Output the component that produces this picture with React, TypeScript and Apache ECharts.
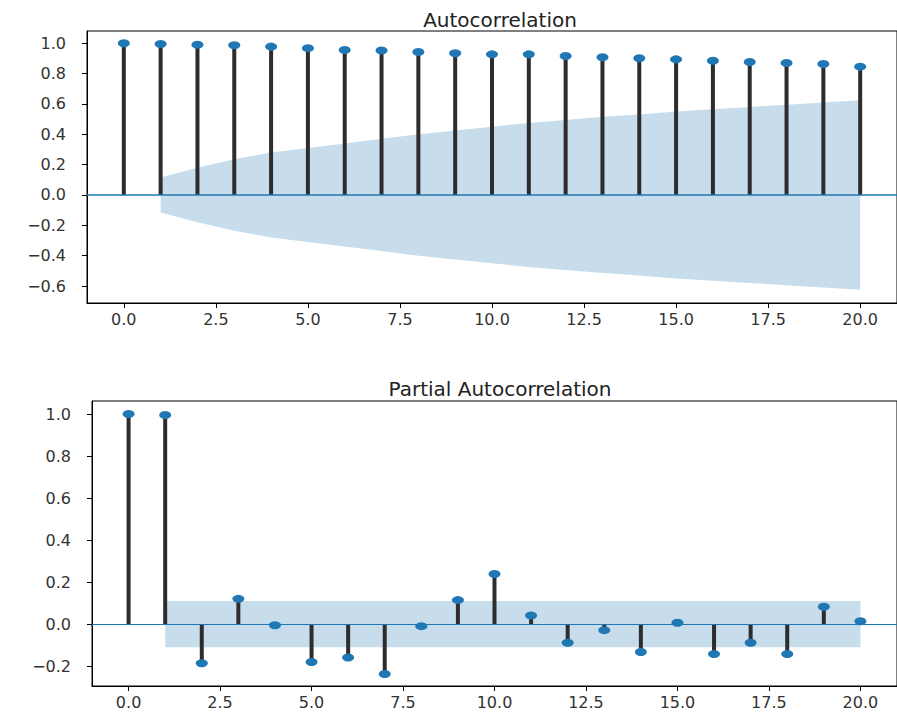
import React, { useEffect, useRef } from "react";
import * as echarts from "echarts";

// ---- data ----
const lags = [0, 1, 2, 3, 4, 5, 6, 7, 8, 9, 10, 11, 12, 13, 14, 15, 16, 17, 18, 19, 20];

const acfValues = [
  1.0, 0.995, 0.99, 0.987, 0.978, 0.968, 0.956, 0.952, 0.943, 0.934, 0.927,
  0.927, 0.916, 0.908, 0.901, 0.894, 0.885, 0.877, 0.87, 0.864, 0.846,
];
// confidence band half-width for lags 1..20
const acfConfLags = [1, 2, 3, 4, 5, 6, 7, 8, 9, 10, 11, 12, 13, 14, 15, 16, 17, 18, 19, 20];
const acfConf = [
  0.115, 0.18, 0.235, 0.28, 0.31, 0.34, 0.37, 0.4, 0.425, 0.45, 0.475, 0.495,
  0.515, 0.53, 0.55, 0.565, 0.58, 0.595, 0.61, 0.624,
];

const pacfValues = [
  1.0, 0.995, -0.187, 0.12, -0.006, -0.181, -0.159, -0.238, -0.01, 0.114, 0.238,
  0.041, -0.089, -0.029, -0.133, 0.006, -0.143, -0.089, -0.143, 0.082, 0.013,
];
const pacfConfLags = [1, 2, 3, 4, 5, 6, 7, 8, 9, 10, 11, 12, 13, 14, 15, 16, 17, 18, 19, 20];
const pacfConf = [
  0.11, 0.11, 0.11, 0.11, 0.11, 0.11, 0.11, 0.11, 0.11, 0.11, 0.11, 0.11, 0.11,
  0.11, 0.11, 0.11, 0.11, 0.11, 0.11, 0.11,
];

const xTicks = [0, 2.5, 5, 7.5, 10, 12.5, 15, 17.5, 20];
const acfYTicks = [-0.6, -0.4, -0.2, 0, 0.2, 0.4, 0.6, 0.8, 1.0];
const pacfYTicks = [-0.2, 0, 0.2, 0.4, 0.6, 0.8, 1.0];

const titles = ["Autocorrelation", "Partial Autocorrelation"];

// ---- styling ----
const BLUE = "#1f77b4";
const BAND = "rgba(31,119,180,0.25)";
const STEM = "#2d2d2d";
const FONT = "DejaVu Sans";

function fmt(v: number) {
  const s = Math.abs(v).toFixed(1);
  return v < -1e-9 ? "\u2212" + s : s;
}

function makeAxes(gi: number, yMin: number, yMax: number, yTicks: number[]) {
  const xAxis = {
    type: "value",
    gridIndex: gi,
    min: -1,
    max: 21,
    axisLine: { show: true, onZero: false, lineStyle: { color: "#000", width: 1 } },
    axisTick: { show: true, customValues: xTicks, length: 5, lineStyle: { color: "#000" } },
    axisLabel: {
      customValues: xTicks,
      formatter: (v: number) => fmt(v),
      fontFamily: FONT,
      fontSize: 16,
      color: "#333",
      margin: 8,
    },
    splitLine: { show: false },
  };
  const yAxis = {
    type: "value",
    gridIndex: gi,
    min: yMin,
    max: yMax,
    axisLine: { show: true, onZero: false, lineStyle: { color: "#000", width: 1 } },
    axisTick: { show: true, customValues: yTicks, length: 5, lineStyle: { color: "#000" } },
    axisLabel: {
      customValues: yTicks,
      formatter: (v: number) => fmt(v),
      fontFamily: FONT,
      fontSize: 16,
      color: "#333",
      margin: 21,
    },
    splitLine: { show: false },
  };
  return { xAxis, yAxis };
}

function makeSeries(gi: number, values: number[], confLags: number[], conf: number[], zeroWidth: number) {
  return [
    {
      type: "line",
      xAxisIndex: gi,
      yAxisIndex: gi,
      data: confLags.map((l, i) => [l, conf[i]]),
      symbol: "none",
      lineStyle: { width: 0 },
      areaStyle: { color: BAND, origin: 0, opacity: 1 },
      silent: true,
      z: 1,
    },
    {
      type: "line",
      xAxisIndex: gi,
      yAxisIndex: gi,
      data: confLags.map((l, i) => [l, -conf[i]]),
      symbol: "none",
      lineStyle: { width: 0 },
      areaStyle: { color: BAND, origin: 0, opacity: 1 },
      silent: true,
      z: 1,
    },
    {
      type: "bar",
      xAxisIndex: gi,
      yAxisIndex: gi,
      data: lags.map((l, i) => [l, values[i]]),
      barWidth: 4,
      itemStyle: { color: STEM },
      z: 2,
      markLine: {
        silent: true,
        symbol: ["none", "none"],
        label: { show: false },
        lineStyle: { color: BLUE, width: zeroWidth, type: "solid" },
        data: [{ yAxis: 0 }],
        z: 3,
      },
    },
    {
      type: "scatter",
      xAxisIndex: gi,
      yAxisIndex: gi,
      data: lags.map((l, i) => [l, values[i]]),
      symbol: "circle",
      symbolSize: [12, 8],
      itemStyle: { color: BLUE, opacity: 1 },
      z: 4,
    },
  ];
}

export default function App() {
  const ref = useRef<HTMLDivElement>(null);

  useEffect(() => {
    if (!ref.current) return;
    const chart = echarts.init(ref.current, null, { renderer: "svg" });

    const a1 = makeAxes(0, -0.712, 1.081, acfYTicks);
    const a2 = makeAxes(1, -0.295, 1.062, pacfYTicks);

    chart.setOption({
      animation: false,
      backgroundColor: "#fff",
      title: [
        {
          text: titles[0],
          left: 495,
          textAlign: "center",
          top: 5,
          textStyle: { fontFamily: FONT, fontSize: 20, fontWeight: "normal", color: "#222" },
        },
        {
          text: titles[1],
          left: 495,
          textAlign: "center",
          top: 374,
          textStyle: { fontFamily: FONT, fontSize: 20, fontWeight: "normal", color: "#222" },
        },
      ],
      grid: [
        { left: 87, top: 31, width: 817, height: 272, show: true, borderColor: "#000", borderWidth: 1, backgroundColor: "#fff" },
        { left: 92, top: 401, width: 806, height: 285, show: true, borderColor: "#000", borderWidth: 1, backgroundColor: "#fff" },
      ],
      xAxis: [a1.xAxis, a2.xAxis],
      yAxis: [a1.yAxis, a2.yAxis],
      series: [
        ...makeSeries(0, acfValues, acfConfLags, acfConf, 1.5),
        ...makeSeries(1, pacfValues, pacfConfLags, pacfConf, 1.2),
      ],
    });

    return () => chart.dispose();
  }, []);

  return (
    <div
      ref={ref}
      style={{ position: "absolute", left: 0, top: 0, width: 897, height: 713, background: "#fff" }}
    />
  );
}
